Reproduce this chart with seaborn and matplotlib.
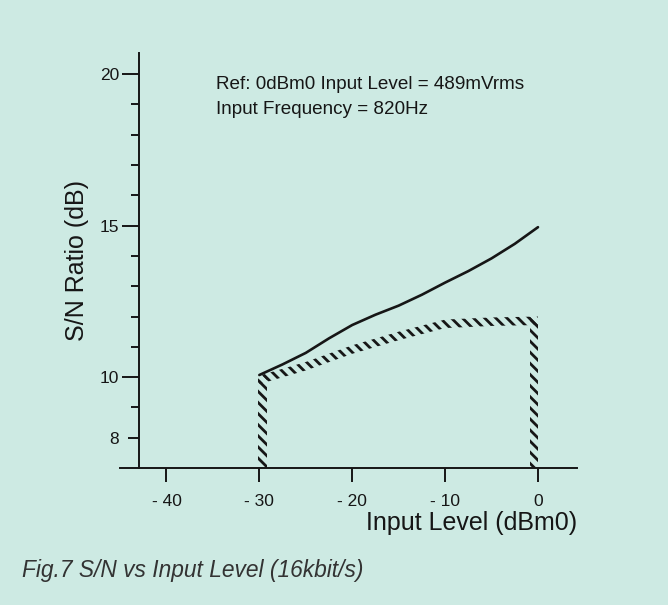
import numpy as np
import matplotlib
matplotlib.use("Agg")
import matplotlib.pyplot as plt
import seaborn as sns
from matplotlib.ticker import FixedLocator

# data
level = [-30, -27.5, -25, -22.5, -20, -17.5, -15, -12.5, -10, -7.5, -5, -2.5, 0]
sn_ratio = [10.07, 10.42, 10.8, 11.28, 11.72, 12.06, 12.36, 12.72, 13.12,
            13.5, 13.92, 14.4, 14.95]

limit_level = [-30, -25, -20, -15, -10, -5, 0]
limit_sn = [10.05, 10.5, 11.05, 11.5, 11.9, 11.97, 12.0]

x_ticks = [-40, -30, -20, -10, 0]
x_labels = ["- 40", "- 30", "- 20", "- 10", "0"]
y_ticks = [8, 10, 15, 20]
y_minor = [9, 11, 12, 13, 14, 16, 17, 18, 19]

bg = "#cdeae3"
ink = "#161616"

sns.set_theme(style="ticks")
plt.rcParams["font.family"] = ["Liberation Sans", "DejaVu Sans"]
plt.rcParams["hatch.linewidth"] = 2.0

fig = plt.figure(figsize=(6.68, 6.05), dpi=100, facecolor=bg)
ax = fig.add_axes([120 / 668, 1 - 468 / 605, 457 / 668, 415 / 605])
ax.set_facecolor(bg)

# measured curve
sns.lineplot(x=level, y=sn_ratio, color=ink, linewidth=1.9, ax=ax)

# hatched limit band
band = 0.28
lim = np.array(limit_sn)
ax.fill_between(limit_level, lim - band, lim, facecolor="none",
                edgecolor=ink, hatch="\\\\\\", linewidth=0)
ax.fill_betweenx([7.0, lim[0]], limit_level[0] - 0.1, limit_level[0] + 0.8,
                 facecolor="none", edgecolor=ink, hatch="\\\\\\", linewidth=0)
ax.fill_betweenx([7.0, lim[-1]], limit_level[-1] - 0.9, limit_level[-1],
                 facecolor="none", edgecolor=ink, hatch="\\\\\\", linewidth=0)

ax.set_xlim(-45, 4.2)
ax.set_ylim(7.0, 20.7)

for s in ["top", "right"]:
    ax.spines[s].set_visible(False)
ax.spines["left"].set_position(("data", -43))
for s in ["left", "bottom"]:
    ax.spines[s].set_color(ink)
    ax.spines[s].set_linewidth(1.4)

ax.set_xticks(x_ticks)
ax.set_xticklabels(x_labels)
ax.set_yticks(y_ticks)
ax.set_yticklabels([str(v) for v in y_ticks])
ax.yaxis.set_minor_locator(FixedLocator(y_minor))

ax.tick_params(axis="x", direction="out", length=10, width=1.4, color=ink,
               pad=9, labelsize=12.5, labelcolor=ink)
ax.tick_params(axis="y", which="major", direction="out", length=12, width=1.4,
               color=ink, pad=2, labelsize=12.5, labelcolor=ink)
ax.tick_params(axis="y", which="minor", direction="out", length=5.5, width=1.4,
               color=ink)
# the 8 tick is a bit shorter in the original
ax.yaxis.get_major_ticks()[0].tick1line.set_markersize(8)

ax.set_xlabel("Input Level (dBm0)", fontsize=18, color=ink, loc="right", labelpad=1)
ax.set_ylabel("S/N Ratio (dB)", fontsize=18, color=ink, labelpad=8)

ax.text(-34.7, 19.67, "Ref: 0dBm0 Input Level = 489mVrms", fontsize=13.6,
        color=ink, ha="left", va="center")
ax.text(-34.7, 18.85, "Input Frequency = 820Hz", fontsize=13.6,
        color=ink, ha="left", va="center")

fig.text(22 / 668, 1 - 570 / 605, "Fig.7 S/N vs Input Level (16kbit/s)",
         fontsize=16.4, style="italic", color="#333333", ha="left", va="center")

fig.savefig("out.png", dpi=100, facecolor=bg)
